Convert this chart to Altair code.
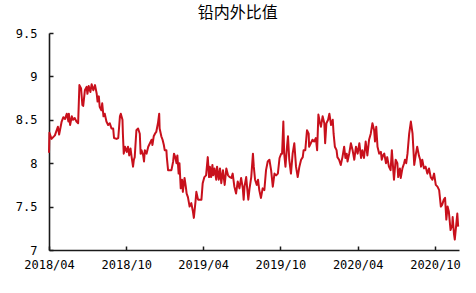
import altair as alt
import pandas as pd

title_text = "铅内外比值"
start_date = "2018-04-01"

# days after 2018-04-01
day_offset = [
    0, 1, 6, 14, 21, 24, 30, 34, 38, 42, 46, 47, 50, 54, 57, 61, 65, 69, 72, 76,
    79, 81, 85, 89, 91, 94, 98, 101, 105, 109, 113, 115, 118, 120, 124, 126, 129, 132, 136, 140,
    144, 148, 152, 154, 160, 164, 168, 170, 174, 175, 177, 180, 184, 187, 190, 193, 196, 199, 201, 203,
    207, 211, 215, 217, 219, 223, 225, 227, 231, 235, 239, 243, 245, 248, 251, 254, 258, 261, 262, 266,
    269, 272, 274, 278, 279, 282, 286, 290, 294, 296, 299, 302, 304, 307, 309, 312, 315, 317, 321, 324,
    326, 329, 333, 337, 341, 343, 347, 349, 353, 357, 361, 364, 368, 372, 376, 379, 381, 384, 387, 389,
    392, 396, 398, 402, 405, 408, 412, 416, 420, 424, 428, 432, 435, 439, 443, 447, 451, 455, 459, 461,
    463, 467, 469, 472, 475, 479, 483, 485, 488, 492, 495, 498, 502, 506, 510, 514, 518, 522, 526, 530,
    534, 538, 542, 546, 550, 552, 555, 557, 560, 564, 566, 569, 573, 577, 581, 585, 589, 593, 597, 601,
    603, 607, 611, 615, 616, 620, 624, 628, 632, 635, 638, 641, 644, 648, 652, 654, 657, 661, 664, 668,
    672, 674, 677, 681, 683, 687, 691, 695, 699, 702, 705, 707, 711, 715, 719, 723, 727, 731, 735, 739,
    742, 746, 750, 754, 758, 762, 766, 770, 772, 775, 778, 782, 786, 788, 791, 794, 798, 801, 805, 809,
    812, 815, 817, 821, 825, 827, 831, 833, 837, 841, 843, 846, 849, 853, 857, 861, 865, 869, 872, 876,
    879, 881, 884, 888, 892, 896, 900, 904, 908, 912, 916, 920, 924, 928, 931, 935, 938, 941, 944, 947,
    951, 955, 956, 959, 961, 964, 967, 969,
]

ratio = [
    8.12, 8.35, 8.28, 8.32, 8.42, 8.33, 8.48, 8.53, 8.51, 8.57, 8.48, 8.57, 8.44, 8.54, 8.50, 8.52, 8.48, 8.46, 8.90, 8.86,
    8.67, 8.66, 8.84, 8.88, 8.80, 8.89, 8.82, 8.91, 8.84, 8.90, 8.80, 8.71, 8.77, 8.65, 8.61, 8.69, 8.54, 8.57, 8.48, 8.44,
    8.46, 8.40, 8.40, 8.29, 8.28, 8.29, 8.54, 8.57, 8.50, 8.34, 8.11, 8.19, 8.13, 8.19, 8.09, 8.17, 8.06, 7.96, 8.04, 8.07,
    8.38, 8.40, 8.34, 8.11, 8.15, 8.09, 8.02, 8.15, 8.11, 8.19, 8.23, 8.27, 8.21, 8.31, 8.34, 8.36, 8.46, 8.57, 8.40, 8.31,
    8.27, 8.21, 8.15, 8.15, 8.07, 7.92, 7.92, 7.92, 8.02, 8.11, 8.07, 8.00, 8.09, 7.88, 8.00, 7.71, 7.81, 7.67, 7.83, 7.73,
    7.65, 7.61, 7.50, 7.54, 7.44, 7.37, 7.56, 7.67, 7.58, 7.58, 7.58, 7.77, 7.84, 7.86, 8.07, 7.84, 7.96, 7.84, 7.98, 7.86,
    7.94, 7.81, 7.96, 7.81, 7.94, 7.77, 7.92, 7.75, 7.94, 7.86, 7.84, 7.83, 7.88, 7.73, 7.65, 7.79, 7.71, 7.83, 7.71, 7.58,
    7.73, 7.84, 7.73, 7.58, 7.71, 7.84, 8.11, 7.96, 7.81, 7.75, 7.81, 7.69, 7.60, 7.71, 7.69, 7.92, 8.02, 8.04, 7.92, 7.73,
    7.88, 7.86, 7.88, 8.06, 8.11, 8.11, 8.48, 8.11, 7.96, 8.21, 8.31, 8.04, 7.88, 8.11, 8.23, 7.96, 7.84, 7.96, 8.04, 8.07,
    8.15, 8.15, 8.38, 8.34, 8.19, 8.23, 8.27, 8.25, 8.29, 8.15, 8.56, 8.48, 8.42, 8.54, 8.46, 8.23, 8.46, 8.50, 8.57, 8.44,
    8.50, 8.34, 8.19, 8.15, 8.07, 8.04, 7.98, 8.07, 8.19, 8.06, 8.11, 8.02, 8.11, 8.23, 8.15, 8.04, 8.19, 8.11, 8.23, 8.06,
    8.15, 8.06, 8.25, 8.09, 8.27, 8.34, 8.46, 8.38, 8.25, 8.42, 8.19, 8.11, 8.13, 8.04, 8.09, 8.11, 8.00, 8.07, 7.96, 7.92,
    8.15, 7.94, 7.81, 8.04, 8.00, 7.84, 7.94, 7.83, 7.94, 8.00, 8.04, 8.00, 8.11, 8.34, 8.48, 8.34, 7.98, 8.11, 8.19, 8.09,
    8.04, 7.96, 8.04, 7.94, 7.96, 7.88, 7.94, 7.84, 7.81, 7.88, 7.75, 7.73, 7.69, 7.50, 7.52, 7.58, 7.60, 7.35, 7.50, 7.44,
    7.23, 7.29, 7.38, 7.19, 7.12, 7.27, 7.42, 7.27,
]

y_ticks = [7, 7.5, 8, 8.5, 9, 9.5]
x_tick_dates = [(2018, 4), (2018, 10), (2019, 4), (2019, 10), (2020, 4), (2020, 10)]
x_domain = [(2018, 4, 1), (2020, 11, 27)]

dates = pd.Timestamp(start_date) + pd.to_timedelta(day_offset, unit="D")
df = pd.DataFrame({"date": dates.strftime("%Y-%m-%d"), "ratio": ratio})

x_values = [alt.DateTime(year=y, month=m, date=1, utc=True) for y, m in x_tick_dates]
x_scale = alt.Scale(
    type="utc",
    domain=[alt.DateTime(year=y, month=m, date=d, utc=True) for y, m, d in x_domain],
)
y_scale = alt.Scale(domain=[7, 9.5], nice=False, zero=False)

FONT = "DejaVu Sans Mono"
AX = "#1a1a1a"
RED = "#C8101C"

base = alt.Chart(df)

main = base.mark_line(color=RED, strokeWidth=2, strokeJoin="round").encode(
    x=alt.X(
        "date:T",
        scale=x_scale,
        axis=alt.Axis(
            orient="bottom", values=x_values,
            labelExpr="utcFormat(datum.value, '%Y/%m')",
            title=None, grid=False, ticks=False, tickSize=0, labelPadding=9,
            labelFlush=False, labelOverlap=False, labelFont=FONT, labelFontSize=12,
            labelColor="#000", domainColor=AX, domainWidth=1.6,
        ),
    ),
    y=alt.Y(
        "ratio:Q",
        scale=y_scale,
        axis=alt.Axis(
            orient="left", values=y_ticks, title=None, grid=False, ticks=False,
            tickSize=0, labelPadding=12, labelFont=FONT, labelFontSize=12,
            labelColor="#000", domainColor=AX, domainWidth=1.6,
            labelExpr="datum.value == 7 ? '7' : datum.value == 8 ? '8' : datum.value == 9 ? '9' : format(datum.value, '.1f')",
        ),
    ),
)

ticks_layer = base.mark_line(opacity=0).encode(
    x=alt.X(
        "date:T",
        scale=x_scale,
        axis=alt.Axis(
            orient="top", offset=-217, values=x_values, title=None, grid=False,
            labels=False, domain=False, ticks=True, tickSize=4, tickWidth=1.5,
            tickColor=AX,
        ),
    ),
    y=alt.Y(
        "ratio:Q",
        scale=y_scale,
        axis=alt.Axis(
            orient="right", offset=-410, values=y_ticks, title=None, grid=False,
            labels=False, domain=False, ticks=True, tickSize=4, tickWidth=1.5,
            tickColor=AX,
        ),
    ),
)

chart = (
    alt.layer(main, ticks_layer)
    .resolve_axis(x="independent", y="independent")
    .properties(
        width=410,
        height=217,
        autosize=alt.AutoSizeParams(type="none"),
        padding={"left": 49, "top": 33, "right": 17, "bottom": 43},
        title=alt.TitleParams(
            text=title_text, font="Noto Sans CJK SC", fontSize=16, fontWeight="normal",
            color="#000", anchor="middle", frame="bounds", offset=6,
        ),
        background="white",
    )
    .configure_view(stroke=None)
)

chart.save("out.html", embed_options={"renderer": "svg", "actions": False})
